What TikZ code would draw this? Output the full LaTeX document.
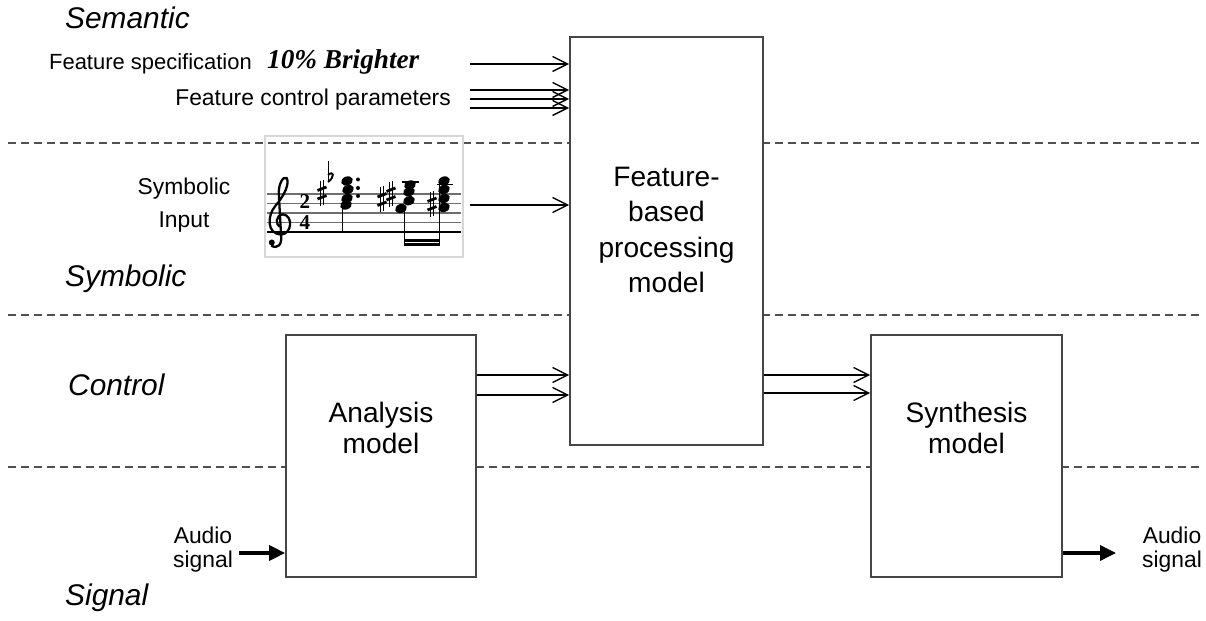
\documentclass[tikz,border=0pt]{standalone}
\usepackage{fontspec}
\setmainfont{Liberation Sans}
\newfontfamily\timesfont{Liberation Serif}
\usetikzlibrary{arrows.meta, positioning, calc}
\definecolor{boxgray}{RGB}{70, 70, 70}
\definecolor{dashgray}{RGB}{80, 80, 80}
\definecolor{framegray}{RGB}{215, 215, 215}
\definecolor{staffgray}{RGB}{110, 110, 110}

\tikzset{
  musharp/.pic={
    \draw[line width=0.5pt] (-1.7,-12) -- (-1.7,13) (1.7,-13) -- (1.7,12);
    \draw[line width=1.6pt] (-4.5,-2.5) -- (4.5,-6) (-4.5,6) -- (4.5,2.5);
  },
  muflat/.pic={
    \draw[line width=0.5pt] (0,-16) -- (0,5);
    \draw[line width=1.1pt] (0,5) .. controls (7,0) and (6,-7) .. (0,-2);
  },
  muhead/.pic={
    \fill[rotate=20] (0,0) ellipse [x radius=0.12cm, y radius=0.09cm];
  }
}

\begin{document}
\begin{tikzpicture}[x=0.02cm, y=-0.02cm,
  model/.style={draw=boxgray, line width=1pt, fill=white, inner sep=0pt},
  modeltext/.style={font=\fontsize{16}{20}\selectfont, align=center},
  smalltext/.style={font=\fontsize{16}{18}\selectfont, align=center},
  layername/.style={font=\fontsize{17}{20}\selectfont\itshape, anchor=west},
  lbl/.style={font=\fontsize{13}{13.6}\selectfont},
  flow/.style={line width=0.8pt, -{Straight Barb[length=0.3cm, width=0.3cm]}},
  audio/.style={line width=2pt, -{Triangle[length=0.32cm, width=0.3cm]}},
  divider/.style={dashgray, line width=0.9pt, dash pattern=on 0.16cm off 0.1cm}]
  \useasboundingbox (0,0) rectangle (1206,621);

  % Layer dividers
  \foreach \y in {143, 315, 467}
    \draw[divider] (8,\y) -- (1200,\y);

  % Layer names
  \node[layername] (semantic) at (59,18) {Semantic};
  \node[layername] (symbolic) at (59,279) {Symbolic};
  \node[layername] (control) at (62,385) {Control};
  \node[layername] (signal) at (59,598) {Signal};

  % Models
  \node[model, minimum width=3.86cm, minimum height=8.16cm] (fpm) at (666.5,241) {};
  \node[modeltext] (fpmtext) at (666.5,230) {Feature-\\based\\processing\\model};
  \node[model, minimum width=3.8cm, minimum height=4.84cm] (ana) at (381,456) {};
  \node[smalltext] (anatext) at (381,428) {Analysis\\model};
  \node[model, minimum width=3.82cm, minimum height=4.84cm] (syn) at (966.5,456) {};
  \node[smalltext] (syntext) at (966.5,428) {Synthesis\\model};

  % Semantic inputs
  \node[lbl, anchor=east, font=\fontsize{12.5}{14}\selectfont] (fspec) at (258,64) {Feature specification};
  \node[font=\timesfont\bfseries\itshape\fontsize{15.5}{18}\selectfont, anchor=west] (bright) at (261,62) {10\% Brighter};
  \node[lbl, anchor=east] (fctrl) at (457,100) {Feature control parameters};
  \coordinate (specin) at (470,64);
  \coordinate (ctrlin) at (470,99);
  \draw[flow] (specin) -- (specin -| fpm.west);
  \foreach \d in {-9, 0, 9}
    \draw[flow] ($(ctrlin)+(0,\d)$) -- ($(ctrlin -| fpm.west)+(0,\d)$);

  % Symbolic input: score
  \node[lbl, align=center, font=\fontsize{13}{19}\selectfont] (symlbl) at (184,205) {Symbolic\\Input};
  \draw[framegray, line width=0.6pt] (265,136) rectangle (463,257);
  \foreach \y in {194, 203.5, 213, 222.5}
    \draw[staffgray, line width=0.6pt] (267,\y) -- (461,\y);
  \draw[line width=1pt] (267,232) -- (461,232);
  % clef
  \draw[line width=1.3pt] (271.2,245.6) .. controls (277.8,249.4) and (282.2,244.4) .. (281.1,235.6) -- (278.9,195.6)
    .. controls (277.8,184.4) and (283.3,175.6) .. (286.6,178.1) .. controls (289.9,183.1) and (284.4,195.6) .. (275.6,205.6)
    .. controls (266.8,215.6) and (266.8,234.4) .. (281.1,234.4) .. controls (292.1,234.4) and (293.2,215.6) .. (283.3,214.4)
    .. controls (275.6,214.4) and (274.5,225.6) .. (281.1,226.9);
  \fill (271.8,242.5) circle[radius=0.06cm];
  \node[font=\timesfont\bfseries\fontsize{12}{12}\selectfont, inner sep=0pt] (tsig2) at (305,202) {2};
  \node[font=\timesfont\bfseries\fontsize{12}{12}\selectfont, inner sep=0pt] (tsig4) at (305,223) {4};
  % first chord
  \pic at (322,193) {musharp};
  \pic at (328,177) {muflat};
  \draw[line width=0.5pt] (342.5,202) -- (342.5,232);
  \foreach \x/\y in {347/181, 348/189.5, 347/198.5, 346/205}
    \pic at (\x,\y) {muhead};
  \foreach \y in {179.5, 188, 196}
    \fill (358,\y) circle[radius=0.04cm];
  % beamed chords
  \pic at (382,199.5) {musharp};
  \pic at (391,194) {musharp};
  \draw[line width=0.8pt] (402,182) -- (419,182);
  \foreach \x/\y in {401/208.5, 409/200.7, 409/191.8, 410/185}
    \pic at (\x,\y) {muhead};
  \draw[line width=0.5pt] (404,207) -- (404,246.5);
  \pic at (432,204) {musharp};
  \draw[line width=0.8pt] (437,184.5) -- (453,184.5);
  \foreach \y in {181, 189.5, 198.5, 207.5}
    \pic at (444,\y) {muhead};
  \draw[line width=0.5pt] (439.5,183) -- (439.5,246.5);
  \fill (404,239) rectangle (440,242);
  \fill (404,243.5) rectangle (440,246.5);
  \coordinate (symin) at (470,205);
  \draw[flow] (symin) -- (symin -| fpm.west);

  % Control connections
  \foreach \y in {375, 395}
    \draw[flow] (ana.east |- 0,\y) -- (fpm.west |- 0,\y);
  \foreach \y in {375, 393}
    \draw[flow] (fpm.east |- 0,\y) -- (syn.west |- 0,\y);

  % Audio signals
  \node[lbl, align=center] (ain) at (203,550) {Audio\\signal};
  \node[lbl, align=center] (aout) at (1172,550) {Audio\\signal};
  \coordinate (aoutend) at (1116,553);
  \draw[audio] (ain.east |- 0,553) -- (ana.west |- 0,553);
  \draw[audio] (syn.east |- aoutend) -- (aoutend);
\end{tikzpicture}
\end{document}
